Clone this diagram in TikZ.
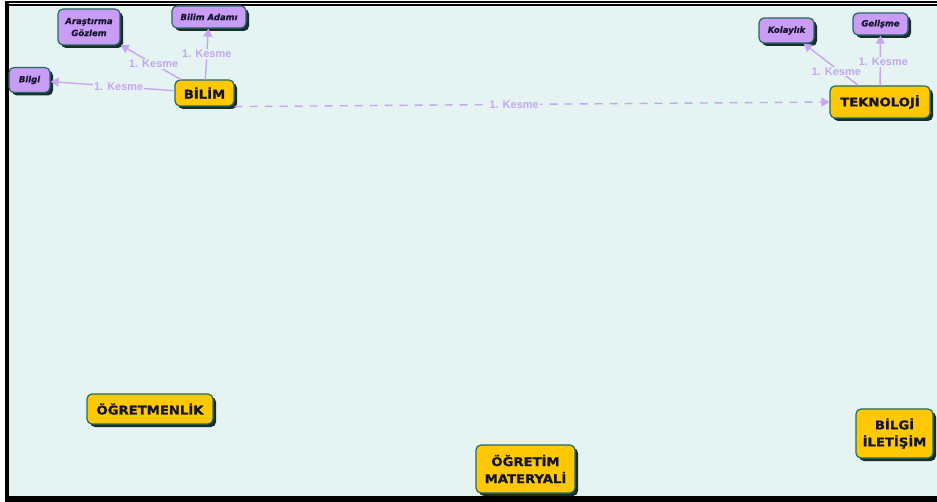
\documentclass[tikz,border=0pt]{standalone}
\usepackage{fontspec}
\newfontfamily\hfont[FakeStretch=1.1,FakeBold=1.2]{DejaVu Sans Bold}
\newfontfamily\sfontx[FakeBold=0.6]{DejaVu Sans Bold Oblique}
\newfontfamily\lfont{Liberation Sans}
\usetikzlibrary{arrows.meta,shadows}
\definecolor{bgc}{RGB}{229,244,242}
\definecolor{yel}{RGB}{255,200,0}
\definecolor{pur}{RGB}{201,156,245}
\definecolor{brd}{RGB}{35,105,100}
\definecolor{shd}{RGB}{25,45,45}
\definecolor{lav}{RGB}{198,166,240}
\definecolor{txt}{RGB}{20,20,45}
\begin{document}
\begin{tikzpicture}[x=1pt,y=-1pt,
  base/.style={draw=brd, line width=1.2pt, rounded corners=5pt, inner sep=0pt,
    drop shadow={shadow xshift=3pt, shadow yshift=-3pt, fill=shd, opacity=1}, text=txt},
  mainbox/.style={base, fill=yel, font=\hfont\fontsize{12}{17}\selectfont, align=center},
  subbox/.style={base, fill=pur, font=\sfontx\fontsize{8.5}{12}\selectfont, align=center},
  link/.style={draw=lav, line width=1.4pt, -{Triangle[length=8pt,width=9pt]}},
  lab/.style={fill=bgc, text=lav, font=\lfont\bfseries\fontsize{11}{11}\selectfont, inner sep=1pt}]
\useasboundingbox (0,0) rectangle (937,502);
% frame
\fill[white] (0,0) rectangle (937,502);
\fill[bgc] (9,6.5) rectangle (937,496);
\fill[black] (4.7,1.5) rectangle (9,502);
\fill[black] (4.7,1.5) rectangle (937,2.8);
\fill[black] (4.7,4.1) rectangle (937,6.5);
\fill[black] (4.7,496) rectangle (937,502);
% nodes
\node[subbox, minimum width=41pt, minimum height=25pt] (bilgi) at (29.5,80) {Bilgi};
\node[subbox, minimum width=62pt, minimum height=36pt] (arastirma) at (89,27) {Araştırma\\Gözlem};
\node[subbox, minimum width=74pt, minimum height=22pt] (adami) at (209,17) {Bilim Adamı};
\node[mainbox, minimum width=59pt, minimum height=26pt] (bilim) at (204.5,93) {BİLİM};
\node[mainbox, minimum width=100pt, minimum height=32pt] (tek) at (880,102) {TEKNOLOJİ};
\node[subbox, minimum width=55pt, minimum height=25pt] (kolay) at (786.5,30.5) {Kolaylık};
\node[subbox, minimum width=55pt, minimum height=22pt] (gelisme) at (880.5,24) {Gelişme};
\node[mainbox, minimum width=126pt, minimum height=30pt] (ogretmen) at (150,409) {ÖĞRETMENLİK};
\node[mainbox, minimum width=99pt, minimum height=48pt] (materyal) at (525.5,469) {ÖĞRETİM\\MATERYALİ};
\node[mainbox, minimum width=77pt, minimum height=49pt] (iletisim) at (894.5,433.5) {BİLGİ\\İLETİŞİM};
% links
\draw[link] (bilim) -- node[lab, pos=0.45] {1. Kesme} (bilgi);
\draw[link] (bilim) -- node[lab, pos=0.45] {1. Kesme} (arastirma);
\draw[link] (bilim) -- node[lab, pos=0.5] {1. Kesme} (adami);
\draw[link, dash pattern=on 8pt off 7pt] (bilim.south east) -- node[lab, pos=0.47] {1. Kesme} (tek.west);
\draw[link] (tek) -- node[lab, pos=0.47, xshift=3pt] {1. Kesme} (gelisme);
\draw[link] (tek) -- node[lab, pos=0.33, xshift=-4pt] {1. Kesme} (kolay);
\end{tikzpicture}
\end{document}
